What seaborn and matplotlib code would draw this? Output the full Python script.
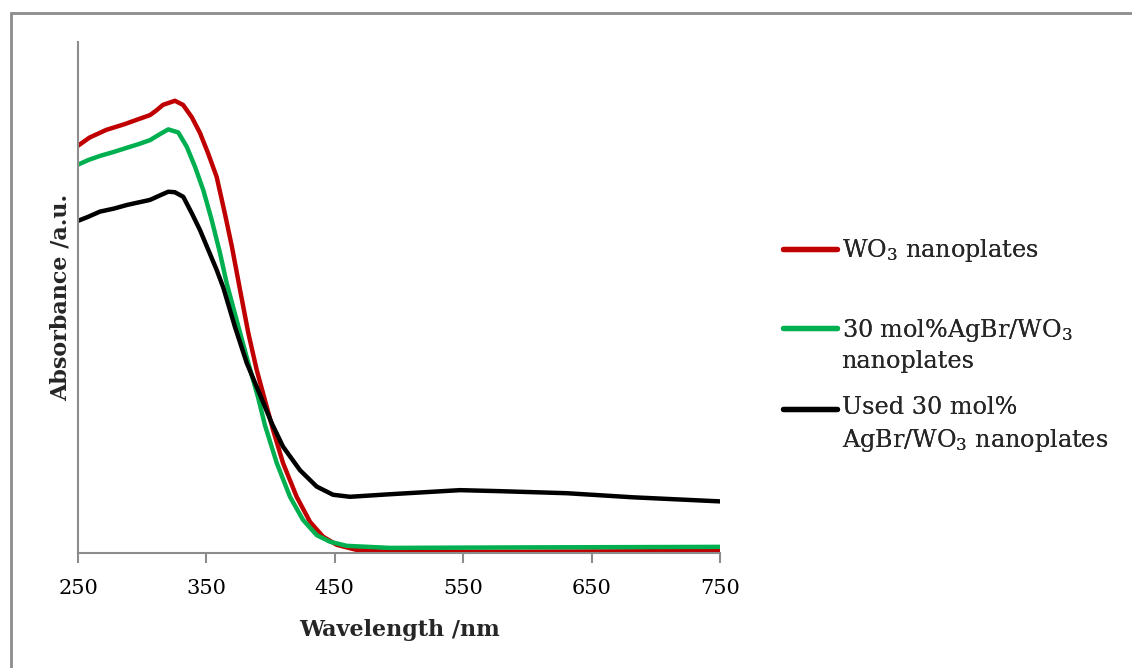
import matplotlib
matplotlib.use("Agg")
import matplotlib.pyplot as plt
import seaborn as sns
import pandas as pd
from matplotlib.patches import Rectangle
from matplotlib.lines import Line2D
from matplotlib.legend_handler import HandlerLine2D

# ---- data ----
wl_red = [250, 259, 272, 286, 296, 306.1, 311, 316.2, 325.5, 331.8, 338.6, 345.0, 351.2,
          358.0, 364.5, 369.9, 376.2, 382.6, 389.2, 395.6, 401.9, 409.7, 420.3, 430.7,
          440.8, 451.5, 467.1, 493, 600, 750]
abs_red = [0.797, 0.813, 0.828, 0.839, 0.848, 0.857, 0.866, 0.877, 0.885, 0.877, 0.853,
           0.822, 0.783, 0.736, 0.663, 0.599, 0.515, 0.431, 0.358, 0.299, 0.241, 0.176,
           0.110, 0.061, 0.032, 0.016, 0.006, 0.0025, 0.0025, 0.004]

wl_green = [250, 258, 267, 278, 288, 297, 306.1, 314, 320.3, 328.1, 334.7, 341.1, 347.6,
            354.1, 360.6, 365.8, 376.2, 382.6, 390.2, 395.6, 404.8, 415.1, 425.2, 435.9,
            446.3, 459.3, 493, 600, 750]
abs_green = [0.760, 0.769, 0.777, 0.785, 0.793, 0.800, 0.808, 0.820, 0.829, 0.823, 0.795,
             0.756, 0.710, 0.652, 0.587, 0.528, 0.431, 0.372, 0.305, 0.250, 0.176, 0.110,
             0.065, 0.035, 0.022, 0.014, 0.010, 0.011, 0.012]

wl_black = [250, 258, 267, 278, 288, 297, 306.1, 314, 320.3, 325.5, 332.0, 338.6, 345.0,
            351.5, 358.0, 363.2, 372.3, 381.4, 390.2, 400.9, 409.7, 422.9, 435.9, 448.6,
            461.8, 493, 547.5, 578.7, 630.8, 682.2, 750]
abs_black = [0.650, 0.658, 0.668, 0.674, 0.681, 0.686, 0.691, 0.700, 0.707, 0.706, 0.697,
             0.665, 0.632, 0.593, 0.554, 0.519, 0.442, 0.372, 0.319, 0.254, 0.208, 0.162,
             0.130, 0.114, 0.110, 0.115, 0.123, 0.121, 0.117, 0.109, 0.101]

labels = ["WO$_{3}$ nanoplates",
          "30 mol%AgBr/WO$_{3}$\nnanoplates",
          "Used 30 mol%\nAgBr/WO$_{3}$ nanoplates"]
colors = ["#C00000", "#00B050", "#000000"]
xticks = [250, 350, 450, 550, 650, 750]

df = pd.concat([
    pd.DataFrame({"wl": wl_red, "a": abs_red, "s": labels[0]}),
    pd.DataFrame({"wl": wl_green, "a": abs_green, "s": labels[1]}),
    pd.DataFrame({"wl": wl_black, "a": abs_black, "s": labels[2]}),
], ignore_index=True)

sns.set_theme(style="white")
plt.rcParams["font.family"] = ["DejaVu Serif"]
plt.rcParams["mathtext.fontset"] = "dejavuserif"

W, H = 1132, 668
fig = plt.figure(figsize=(W / 100, H / 100), dpi=100)
ax = fig.add_axes([78 / W, 1 - 553 / H, (720 - 78) / W, (553 - 42) / H])

sns.lineplot(data=df, x="wl", y="a", hue="s", palette=dict(zip(labels, colors)),
             estimator=None, sort=False, legend=False, linewidth=3.2, ax=ax)
for ln in ax.get_lines():
    ln.set_solid_joinstyle("round")

ax.set_xlim(250, 750)
ax.set_ylim(0, 1)
ax.set_xticks(xticks)
ax.set_xticklabels([str(t) for t in xticks], fontsize=15)
ax.set_yticks([])
gray = "#8c8c8c"
for s in ["top", "right"]:
    ax.spines[s].set_visible(False)
for s in ["left", "bottom"]:
    ax.spines[s].set_color(gray)
    ax.spines[s].set_linewidth(1.5)
ax.tick_params(axis="x", direction="out", length=7, width=1.5, color=gray, pad=12,
               bottom=True, labelcolor="black")
ax.set_xlabel("Wavelength /nm", fontsize=16, fontweight="bold", labelpad=15)
ax.set_ylabel("Absorbance /a.u.", fontsize=16, fontweight="bold", labelpad=4.5)
ax.set_facecolor("white")


class FirstLineHandler(HandlerLine2D):
    """Place the legend line next to the first text line."""
    def __init__(self, lift=0.0, **kw):
        super().__init__(**kw)
        self.lift = lift

    def create_artists(self, legend, orig_handle, xdescent, ydescent, width, height,
                       fontsize, trans):
        return super().create_artists(legend, orig_handle, xdescent,
                                      ydescent - self.lift * fontsize, width, height,
                                      fontsize, trans)


# legend: three single-entry legends placed like the reference
ypos = [251, 345, 425]
lifts = [0.0, 1.45, 1.4]
LFS = 17.2
for lab, col, yp, lf in zip(labels, colors, ypos, lifts):
    h = Line2D([], [], color=col, linewidth=3.8)
    lg = fig.legend([h], [lab], loc="center left",
                    bbox_to_anchor=(783 / W, 1 - yp / H), frameon=False,
                    fontsize=LFS, handlelength=2.25, handletextpad=0.2,
                    borderpad=0, borderaxespad=0,
                    handler_map={h: FirstLineHandler(lift=lf)})
    for t in lg.get_texts():
        t.set_linespacing(1.35)
    fig.add_artist(lg)

# outer figure border
fig.patches.append(Rectangle((11 / W, -0.05), 1.2, 1 - 13 / H + 0.05,
                             transform=fig.transFigure, fill=False,
                             edgecolor=gray, linewidth=2))

fig.savefig("out.png", dpi=100, facecolor="white")
